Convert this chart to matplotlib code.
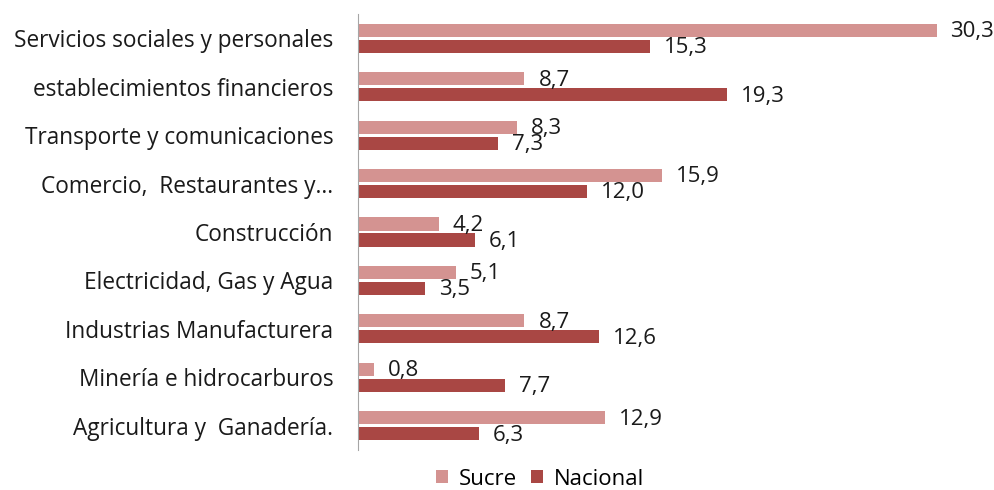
import numpy as np
import matplotlib.pyplot as plt

plt.rcParams['font.family'] = ['Open Sans', 'DejaVu Sans']

categorias = ["Servicios sociales y personales", "establecimientos financieros",
              "Transporte y comunicaciones", "Comercio,  Restaurantes y...",
              "Construcción", "Electricidad, Gas y Agua", "Industrias Manufacturera",
              "Minería e hidrocarburos", "Agricultura y  Ganadería."]
sucre = [30.3, 8.7, 8.3, 15.9, 4.2, 5.1, 8.7, 0.8, 12.9]
nacional = [15.3, 19.3, 7.3, 12.0, 6.1, 3.5, 12.6, 7.7, 6.3]

fig = plt.figure(figsize=(9.95, 4.9), dpi=100)
ax = fig.add_axes([358.5 / 995, 1 - 450 / 490, (975 - 358.5) / 995, (450 - 14) / 490])

y = np.arange(len(categorias))
b1 = ax.barh(y - 0.165, sucre, height=0.27, color='#D49391', label='Sucre')
b2 = ax.barh(y + 0.165, nacional, height=0.27, color='#A94744', label='Nacional')

for bars, vals in ((b1, sucre), (b2, nacional)):
    for bar, v in zip(bars, vals):
        ax.annotate(f"{v:.1f}".replace('.', ','),
                    (bar.get_width(), bar.get_y() + bar.get_height() / 2),
                    xytext=(10, -1), textcoords='offset points',
                    va='center', ha='left', fontsize=16, color='#1a1a1a')

ax.set_xlim(0, (975 - 358.5) / 19.08)
ax.set_ylim(len(categorias) - 0.5, -0.5)
ax.set_yticks(y)
ax.set_yticklabels(categorias, fontsize=16.3, color='#1a1a1a')
ax.tick_params(axis='y', length=0, pad=18)
ax.set_xticks([])
for s in ['top', 'right', 'bottom']:
    ax.spines[s].set_visible(False)
ax.spines['left'].set_color('#A6A6A6')

ax.legend(loc='center', bbox_to_anchor=((540 - 358.5) / (975 - 358.5), -29 / 436),
          ncol=2, frameon=False, fontsize=16, handlelength=0.55, handleheight=0.55,
          handletextpad=0.5, columnspacing=0.6, borderpad=0.1)

plt.savefig('out.png', dpi=100)
